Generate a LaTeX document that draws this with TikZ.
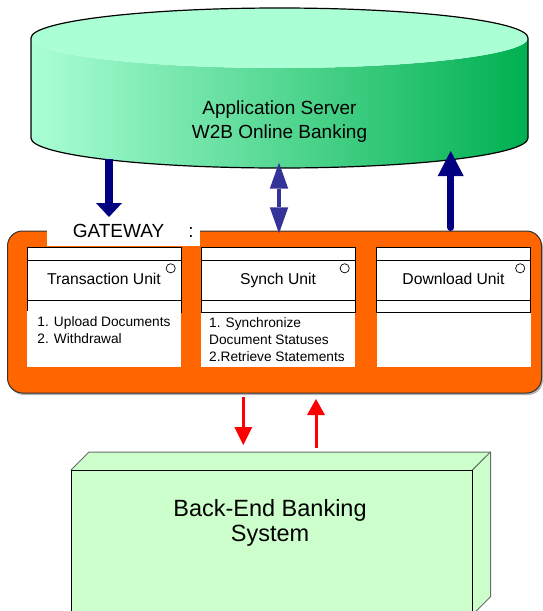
\documentclass[tikz,border=0pt]{standalone}
\usepackage{fontspec}
\setmainfont{Liberation Sans}
\usetikzlibrary{arrows.meta}
\definecolor{mint}{RGB}{170,255,213}
\definecolor{sgreen}{RGB}{0,176,80}
\definecolor{navy}{RGB}{0,0,128}
\definecolor{midblue}{RGB}{51,51,153}
\definecolor{gworange}{RGB}{255,102,0}
\definecolor{bkgreen}{RGB}{204,255,204}
\definecolor{edgegray}{RGB}{100,110,100}
\begin{document}
\begin{tikzpicture}[x=1pt,y=-1pt,
  unitbox/.style={draw=black, line width=0.8pt, fill=white},
  uname/.style={font=\fontsize{15.7}{18}\selectfont, anchor=base, inner sep=0pt},
  listtext/.style={font=\fontsize{13.7}{16.9}\selectfont, align=left, anchor=north west, inner sep=0pt},
  navyarrow/.style={draw=navy, fill=navy, line width=7.5pt},
  midarrow/.style={draw=midblue, fill=midblue, line width=4.5pt},
  redarrow/.style={draw=red, fill=red, line width=3pt}
]
\useasboundingbox (0,0) rectangle (542,611);

% ---------- Application server cylinder ----------
\path[left color=mint, right color=sgreen]
  (31,38) -- (31,138) arc[start angle=180, end angle=0, x radius=248.5, y radius=30]
  -- (528,38) arc[start angle=0, end angle=180, x radius=248.5, y radius=30] -- cycle;
\fill[mint] (279.5,38) ellipse [x radius=248.5, y radius=30];
\draw[line width=1.2pt, black]
  (31,138) -- (31,38) arc[start angle=180, end angle=360, x radius=248.5, y radius=30]
  -- (528,138) arc[start angle=0, end angle=180, x radius=248.5, y radius=30];
\node[name=server, font=\fontsize{19}{24.3}\selectfont, align=center, anchor=north, inner sep=0pt]
  at (279.5,100.2) {Application Server\\W2B Online Banking};

% ---------- Gateway ----------
\fill[gray!60, rounded corners=15pt] (9,233) rectangle (543,395);
\node[name=gateway, draw=black!80, line width=1pt, fill=gworange, rounded corners=15pt,
  minimum width=534pt, minimum height=162pt, inner sep=0pt] at (274.5,312) {};
\fill[white] (47,216) rectangle (200,246);
\node[name=gwlabel, font=\fontsize{19}{22}\selectfont, anchor=base west, inner sep=0pt]
  at (72.6,237.3) {GATEWAY\hspace{24pt}:};

% ---------- Units ----------
\foreach \x/\n/\t in {27/tu/Transaction Unit, 201/su/Synch Unit, 376.5/du/Download Unit}{
  \draw[unitbox] (\x,247) rectangle ++(154,65);
  \draw[line width=0.8pt] (\x,260) -- ++(154,0);
  \draw[line width=0.8pt] (\x,300) -- ++(154,0);
  \draw[line width=0.7pt] (\x+143.7,268.3) circle (4.6);
  \node[uname, name=\n] at (\x+77,284) {\t};
}
\fill[white] (27,311.2) rectangle (181,366.5);
\fill[white] (201,313) rectangle (355,367.3);
\fill[white] (376.5,313) rectangle (530.5,367.3);
\node[listtext, name=tulist] at (37.3,316.8) {1. Upload Documents\\2. Withdrawal};
\node[listtext, name=sulist] at (209,317.4) {1. Synchronize\\Document Statuses\\2.Retrieve Statements};

% ---------- Back-end system ----------
\fill[bkgreen] (71,470) -- (89,452) -- (490.5,452) -- (490.5,596.7) -- (472.3,614.9) -- (71,614.9) -- cycle;
\draw[edgegray, line width=1pt] (71,470) -- (89,452) -- (490.5,452) -- (490.5,596.7) -- (472.3,614.9);
\draw[edgegray, line width=1pt] (472.3,470) -- (490.5,452);
\draw[black, line width=1pt] (71,614.9) -- (71,470) -- (472.3,470) -- (472.3,614.9);
\node[name=backend, font=\fontsize{23.5}{24.3}\selectfont, align=center, anchor=north, inner sep=0pt]
  at (270,499.5) {Back-End Banking\\System};

% ---------- Connectors ----------
\coordinate (l1) at (109,159);   \coordinate (l2) at (109,217);
\coordinate (m1) at (279,162.7); \coordinate (m2) at (279,233.3);
\coordinate (r1) at (450.7,227.3); \coordinate (r2) at (450.7,151);
\coordinate (d1) at (243.3,396.7); \coordinate (d2) at (243.3,445);
\coordinate (u1) at (316,447.7); \coordinate (u2) at (316,399);

\draw[navyarrow, -{Triangle[width=26pt,length=14pt,line width=0pt]}] (l1) -- (l2);
\draw[navyarrow, line cap=round, -{Triangle[width=26pt,length=25pt,line width=0pt]}] (r1) -- (r2);
\draw[midarrow, {Triangle[width=18.5pt,length=26pt,line width=0pt]}-{Triangle[width=18.5pt,length=26pt,line width=0pt]}] (m1) -- (m2);
\draw[redarrow, -{Triangle[width=18pt,length=18pt,line width=0pt]}] (d1) -- (d2);
\draw[redarrow, -{Triangle[width=18pt,length=16pt,line width=0pt]}] (u1) -- (u2);
\end{tikzpicture}
\end{document}
